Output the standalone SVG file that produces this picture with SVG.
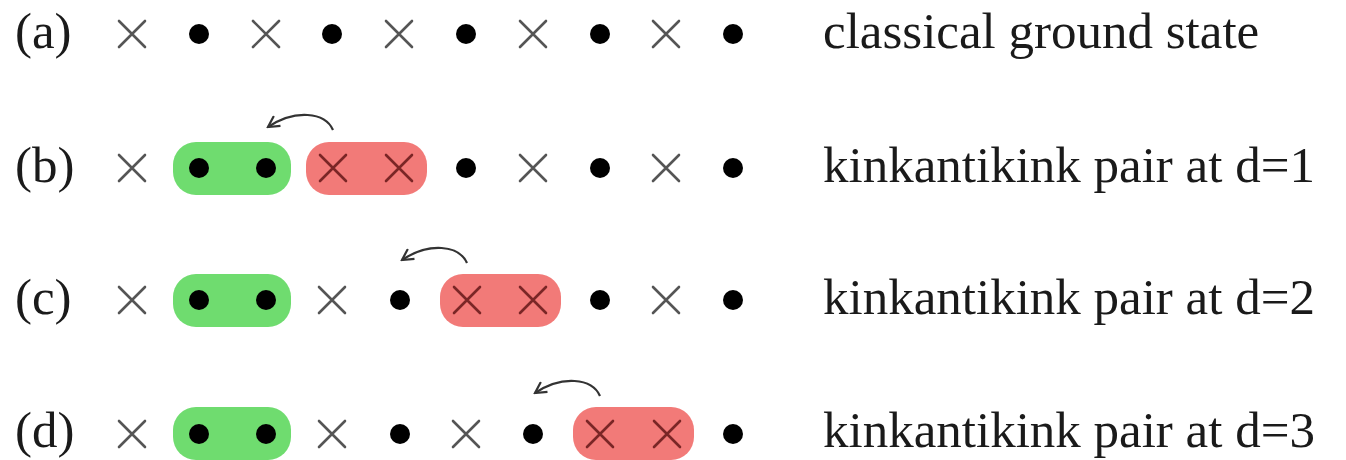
<svg xmlns="http://www.w3.org/2000/svg" xmlns:xlink="http://www.w3.org/1999/xlink" width="1346" height="460" viewBox="0 0 1346 460">
  <style>
    .lbl { font-family: "Liberation Serif", "Times New Roman", serif; font-size: 51px; fill: #1a1a1a; }
    .cross { stroke: #555; stroke-width: 2.6; stroke-linecap: round; fill: none; }
    .cross-r { stroke: #7a2626; }
    .dot { fill: #000; }
    .green { fill: #6fdc6f; }
    .red { fill: #f27a78; }
    .hop { fill: none; stroke: #333; stroke-width: 2.2; }
  </style>
  <defs>
    <path id="xs" d="M-13,-13 L13,13 M13,-13 L-13,13"/>
    <marker id="ah" viewBox="0 0 14 14" refX="12" refY="7" markerWidth="14" markerHeight="14" markerUnits="userSpaceOnUse" orient="auto">
      <path d="M1,1 L12,7 L1,13" fill="none" stroke="#333" stroke-width="2.2" stroke-linejoin="miter"/>
    </marker>
  </defs>
  <rect width="1346" height="460" fill="#fff"/>

  <!-- row (a): classical ground state -->
  <g id="row-a">
    <text class="lbl" x="15" y="48">(a)</text>
    <use href="#xs" class="cross" x="132" y="34"/>
    <circle class="dot" cx="199" cy="34" r="10"/>
    <use href="#xs" class="cross" x="266" y="34"/>
    <circle class="dot" cx="332" cy="34" r="10"/>
    <use href="#xs" class="cross" x="399" y="34"/>
    <circle class="dot" cx="466" cy="34" r="10"/>
    <use href="#xs" class="cross" x="533" y="34"/>
    <circle class="dot" cx="600" cy="34" r="10"/>
    <use href="#xs" class="cross" x="666" y="34"/>
    <circle class="dot" cx="733" cy="34" r="10"/>
    <text class="lbl" x="823" y="48">classical ground state</text>
  </g>

  <!-- row (b): pair at d=1 -->
  <g id="row-b">
    <text class="lbl" x="15" y="182">(b)</text>
    <use href="#xs" class="cross" x="132" y="168"/>
    <g id="kink-b">
      <rect class="green" x="173" y="142" width="118" height="53" rx="23"/>
      <circle class="dot" cx="199" cy="168" r="10"/>
      <circle class="dot" cx="266" cy="168" r="10"/>
    </g>
    <g id="antikink-b">
      <rect class="red" x="306" y="142" width="121" height="53" rx="23"/>
      <use href="#xs" class="cross cross-r" x="333" y="168"/>
      <use href="#xs" class="cross cross-r" x="399" y="168"/>
    </g>
    <circle class="dot" cx="466" cy="168" r="10"/>
    <use href="#xs" class="cross" x="533" y="168"/>
    <circle class="dot" cx="600" cy="168" r="10"/>
    <use href="#xs" class="cross" x="666" y="168"/>
    <circle class="dot" cx="733" cy="168" r="10"/>
    <text class="lbl" x="823" y="182">kinkantikink pair at d=1</text>
  </g>

  <!-- row (c): pair at d=2 -->
  <g id="row-c">
    <text class="lbl" x="15" y="314">(c)</text>
    <use href="#xs" class="cross" x="132" y="300"/>
    <g id="kink-c">
      <rect class="green" x="173" y="274" width="118" height="53" rx="23"/>
      <circle class="dot" cx="199" cy="300" r="10"/>
      <circle class="dot" cx="266" cy="300" r="10"/>
    </g>
    <use href="#xs" class="cross" x="332" y="300"/>
    <circle class="dot" cx="400" cy="300" r="10"/>
    <g id="antikink-c">
      <rect class="red" x="440" y="274" width="121" height="53" rx="23"/>
      <use href="#xs" class="cross cross-r" x="467" y="300"/>
      <use href="#xs" class="cross cross-r" x="533" y="300"/>
    </g>
    <circle class="dot" cx="600" cy="300" r="10"/>
    <use href="#xs" class="cross" x="666" y="300"/>
    <circle class="dot" cx="733" cy="300" r="10"/>
    <text class="lbl" x="823" y="314">kinkantikink pair at d=2</text>
  </g>

  <!-- row (d): pair at d=3 -->
  <g id="row-d">
    <text class="lbl" x="15" y="447">(d)</text>
    <use href="#xs" class="cross" x="132" y="434"/>
    <g id="kink-d">
      <rect class="green" x="173" y="407" width="118" height="53" rx="23"/>
      <circle class="dot" cx="199" cy="434" r="10"/>
      <circle class="dot" cx="266" cy="434" r="10"/>
    </g>
    <use href="#xs" class="cross" x="332" y="434"/>
    <circle class="dot" cx="400" cy="434" r="10"/>
    <use href="#xs" class="cross" x="466" y="434"/>
    <circle class="dot" cx="533" cy="434" r="10"/>
    <g id="antikink-d">
      <rect class="red" x="573" y="407" width="121" height="53" rx="23"/>
      <use href="#xs" class="cross cross-r" x="600" y="434"/>
      <use href="#xs" class="cross cross-r" x="667" y="434"/>
    </g>
    <circle class="dot" cx="733" cy="434" r="10"/>
    <text class="lbl" x="823" y="447">kinkantikink pair at d=3</text>
  </g>

  <!-- hop arrows: antikink moves one site left -->
  <g id="connectors">
    <path class="hop" d="M333,130 C325,112 295,109 268,127" marker-end="url(#ah)"/>
    <path class="hop" d="M467,263 C459,245 429,242 402,260" marker-end="url(#ah)"/>
    <path class="hop" d="M600,396 C592,378 562,375 535,393" marker-end="url(#ah)"/>
  </g>
</svg>
